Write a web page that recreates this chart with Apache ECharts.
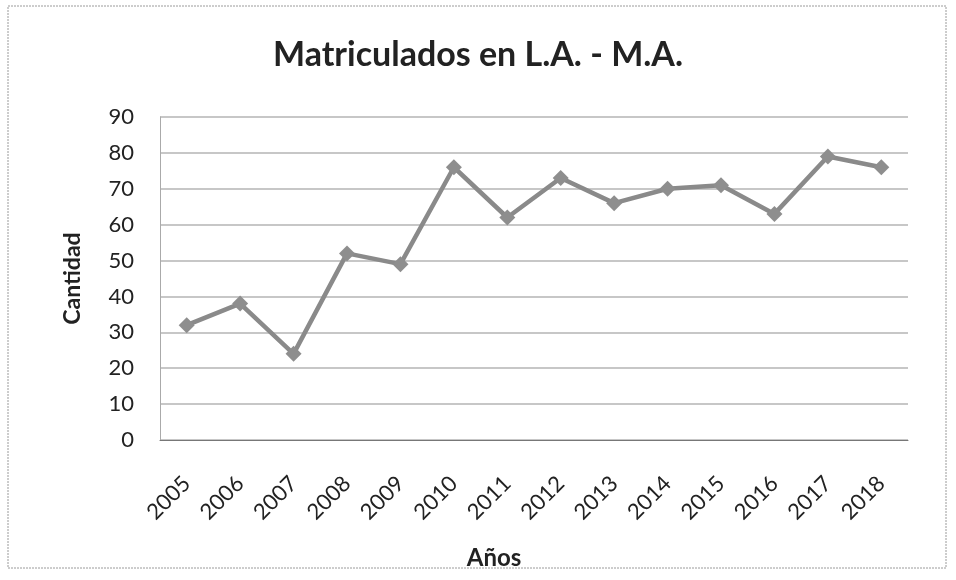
<!DOCTYPE html>
<html><head><meta charset="utf-8">
<script src="https://cdn.jsdelivr.net/npm/echarts@6/dist/echarts.min.js"></script>
<style>html,body{margin:0;padding:0;background:#fff}#c{width:956px;height:580px}</style>
</head><body><div id="c"></div>
<script>
const categories = ['2005','2006','2007','2008','2009','2010','2011','2012','2013','2014','2015','2016','2017','2018'];
const matriculados = [32, 38, 24, 52, 49, 76, 62, 73, 66, 70, 71, 63, 79, 76];
const yTicks = [0, 10, 20, 30, 40, 50, 60, 70, 80, 90];

const chart = echarts.init(document.getElementById('c'));
const font = 'Lato, "Open Sans", sans-serif';
chart.setOption({
  backgroundColor: '#fff',
  animation: false,
  graphic: [{type:'rect', shape:{x:8,y:6,width:938,height:562}, style:{fill:'none', stroke:'#9a9a9a', lineWidth:1, lineDash:[2,1]}}],
  title: {text: 'Matriculados en L.A. - M.A.', left: 'center', top: 33, padding: [5, 0, 5, 16],
    textStyle: {fontFamily: font, fontSize: 34, fontWeight: 'bold', color: '#222'}},
  grid: {left: 160, right: 48, top: 117, bottom: 140},
  xAxis: {type: 'category', data: categories, boundaryGap: true,
    name: 'Años', nameLocation: 'middle', nameGap: 106,
    nameTextStyle: {fontFamily: font, fontSize: 24, fontWeight: 'bold', color: '#222', padding: [0, 80, 0, 0]},
    axisLine: {lineStyle: {color: '#777'}}, axisTick: {show: false},
    axisLabel: {rotate: 45, fontFamily: font, fontSize: 22, color: '#222', margin: 40, interval: 0}},
  yAxis: {type: 'value', min: yTicks[0], max: yTicks[yTicks.length-1], interval: 10,
    name: 'Cantidad', nameLocation: 'middle', nameGap: 76, nameRotate: 90,
    nameTextStyle: {fontFamily: font, fontSize: 23, fontWeight: 'bold', color: '#222'},
    axisLine: {show: true, lineStyle: {color: '#aaa'}}, axisTick: {show: false},
    axisLabel: {fontFamily: font, fontSize: 22, color: '#222', margin: 26},
    splitLine: {lineStyle: {color: '#b4b4b4', width: 1.5}}},
  series: [{type: 'line', data: matriculados, symbol: 'diamond', symbolSize: 16,
    lineStyle: {color: '#8a8a8a', width: 4.5}, itemStyle: {color: '#8e8e8e'}}]
});
</script></body></html>
